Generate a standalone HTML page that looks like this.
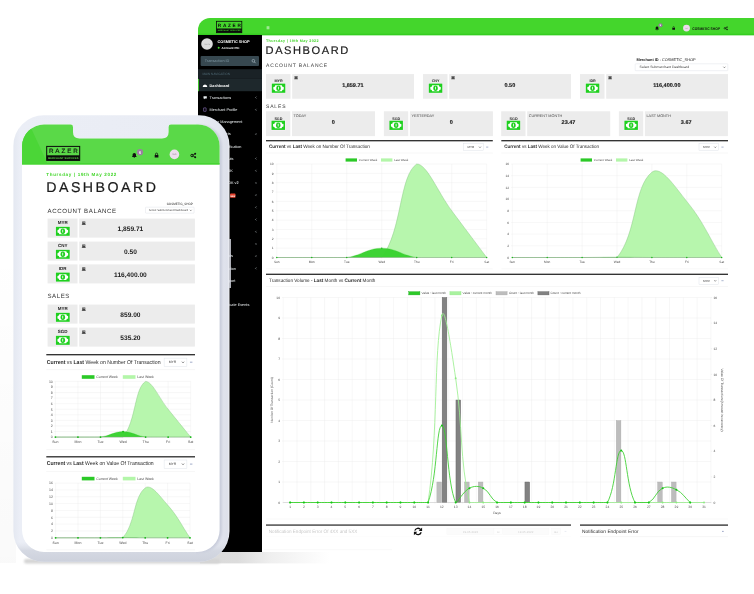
<!DOCTYPE html>
<html><head><meta charset="utf-8"><title>Dashboard</title>
<style>html,body{margin:0;padding:0;background:#fff;overflow:hidden}svg{display:block;will-change:transform}</style></head><body>
<svg width="754" height="594" viewBox="0 0 754 594" font-family="Liberation Sans, sans-serif" text-rendering="geometricPrecision">
<defs>
<clipPath id="win"><path d="M198,552 V30 A12,12 0 0 1 210,18 H754 V552 Z"/></clipPath>
<linearGradient id="shadowL" gradientUnits="userSpaceOnUse" x1="0" x2="330" y1="0" y2="0"><stop offset="0" stop-color="#f3f3f3"/><stop offset="0.6" stop-color="#dadada"/><stop offset="0.72" stop-color="#dcdcdc"/><stop offset="0.82" stop-color="#efefef"/><stop offset="1" stop-color="#ffffff"/></linearGradient>
<filter id="blur1" x="-10%" y="-200%" width="120%" height="500%"><feGaussianBlur stdDeviation="1.3"/></filter>
<linearGradient id="shadowV" x1="0" x2="0" y1="0" y2="1"><stop offset="0" stop-color="#fff" stop-opacity="0"/><stop offset="1" stop-color="#fff" stop-opacity="1"/></linearGradient>
<linearGradient id="bezelR" x1="0" x2="1" y1="0" y2="0"><stop offset="0" stop-color="#e4e8f1"/><stop offset="0.03" stop-color="#ebeef6"/><stop offset="0.85" stop-color="#e9ecf4"/><stop offset="0.95" stop-color="#e3e6ef"/><stop offset="0.99" stop-color="#dde0ea"/><stop offset="1" stop-color="#f0f1f6"/></linearGradient>
<linearGradient id="bezelB" x1="0" x2="0" y1="0" y2="1"><stop offset="0" stop-color="#e9ecf4" stop-opacity="0"/><stop offset="0.955" stop-color="#dfe2ea" stop-opacity="0"/><stop offset="0.975" stop-color="#d2d6e0" stop-opacity="0.9"/><stop offset="1" stop-color="#cdd1dc" stop-opacity="1"/></linearGradient>
<linearGradient id="shL" x1="0" x2="0" y1="0" y2="1"><stop offset="0" stop-color="#000" stop-opacity="0"/><stop offset="1" stop-color="#000" stop-opacity="0.022"/></linearGradient>
<linearGradient id="glare" x1="0" x2="1" y1="0" y2="0"><stop offset="0" stop-color="#4bd537"/><stop offset="1" stop-color="#4bd537"/></linearGradient>
<clipPath id="bezclip"><path d="M13.4,561.8 V145.7 A30.5,30.5 0 0 1 43.9,115.2 H199 A30.5,30.5 0 0 1 229.5,145.7 V531.3 A30.5,30.5 0 0 1 199,561.8 H43.9 A30.5,30.5 0 0 1 13.4,531.3 Z"/></clipPath>
<filter id="blur2" x="-10%" y="-10%" width="120%" height="120%"><feGaussianBlur stdDeviation="0.9"/></filter>
<clipPath id="rightonly"><rect x="196" y="118" width="40" height="440"/></clipPath>
<clipPath id="screen"><path d="M22,552 V146 A22,22 0 0 1 44,124.5 H70.6 Q73,124.5 73,126.9 V132 Q73,138.5 79.5,138.5 H162 Q168.6,138.5 168.6,132 V126.9 Q168.6,124.5 171,124.5 H198 A21.5,21.5 0 0 1 219.6,146 V530 A22,22 0 0 1 197.6,552 H44 A22,22 0 0 1 22,530 Z"/></clipPath>
</defs>
<rect x="0" y="0" width="754" height="594" fill="#fff"/>
<rect x="200" y="551" width="130" height="12.4" fill="url(#shadowL)"/>
<rect x="24" y="559" width="196" height="4.6" rx="2" fill="#d4d4d4" filter="url(#blur1)"/>
<g clip-path="url(#win)">
<rect x="198.00" y="18.00" width="556.00" height="534.00" fill="#fff" />
<rect x="198.00" y="18.00" width="556.00" height="17.20" fill="#44d62c" />
<rect x="198.00" y="33.70" width="556.00" height="1.50" fill="#35cd21" />
<rect x="198.00" y="35.00" width="64.00" height="517.00" fill="#000" />
<g>
<rect x="216.5" y="21.3" width="25.3" height="11.4" fill="#44d62c" stroke="#0a0a0a" stroke-width="0.8"/>
<rect x="216.50" y="28.50" width="25.30" height="4.20" fill="#0a0a0a" />
<text x="230.20" y="26.90" font-size="4.7" fill="#0a0a0a" text-anchor="middle" font-weight="bold" letter-spacing="1.7">RAZER</text>
<text x="229.20" y="31.40" font-size="1.9" fill="#44d62c" text-anchor="middle" font-weight="bold" letter-spacing="0.12">MERCHANT SERVICES</text>
</g>
<rect x="266.60" y="26.60" width="2.80" height="0.55" fill="#fff" />
<rect x="266.60" y="27.60" width="2.80" height="0.55" fill="#fff" />
<rect x="266.60" y="28.60" width="2.80" height="0.55" fill="#fff" />
<path d="M655.1,29.5 h3.9 l-0.6,-0.8 v-0.95 a1.35,1.35 0 0 0 -2.7,0 v0.95 z M656.5,29.7 a0.55,0.55 0 0 0 1.1,0 z" fill="#111"/>
<circle cx="660.5" cy="25.3" r="2.0" fill="#9579a0"/>
<text x="660.50" y="26.15" font-size="2.4" fill="#fff" text-anchor="middle" font-weight="bold">5</text>
<path d="M672.3,27.9 h2.7 v1.8 h-2.7 z" fill="#111"/><path d="M672.9,28 v-0.6 a0.75,0.75 0 0 1 1.5,0 v0.6" fill="none" stroke="#111" stroke-width="0.55"/>
<circle cx="686.5" cy="28.1" r="3.45" fill="#eedaee"/>
<text x="686.50" y="28.80" font-size="2.0" fill="#9a909a" text-anchor="middle">5x5</text>
<text x="692.30" y="29.50" font-size="3.8" fill="#111" font-weight="bold" textLength="27.6" lengthAdjust="spacingAndGlyphs">COSMETIC SHOP</text>
<g fill="#111"><circle cx="724.9" cy="28.3" r="0.8" fill="none" stroke="#111" stroke-width="0.65"/><circle cx="727.1" cy="27.1" r="0.7"/><circle cx="727.1" cy="29.5" r="0.7"/><path d="M725.3,28.1 L727.1,27.1 M725.3,28.5 L727.1,29.5" stroke="#111" stroke-width="0.5"/></g>
<circle cx="207" cy="44" r="5.8" fill="#dcdcdc"/>
<text x="207.00" y="44.80" font-size="2.3" fill="#8f8f8f" text-anchor="middle">75x75</text>
<text x="217.40" y="42.70" font-size="3.85" fill="#fff" font-weight="bold">COSMETIC SHOP</text>
<circle cx="218.7" cy="47.8" r="1.0" fill="#44d62c"/>
<text x="221.60" y="48.80" font-size="3.0" fill="#fff" font-weight="bold">Account PIC</text>
<rect x="200.6" y="56" width="58.4" height="10" rx="1" fill="#374850"/>
<text x="204.80" y="62.30" font-size="3.8" fill="#7f98a3">Transaction ID</text>
<circle cx="253.4" cy="60.8" r="1.35" fill="none" stroke="#b4c5cd" stroke-width="0.6"/>
<line x1="254.40" y1="61.90" x2="255.60" y2="63.20" stroke="#b4c5cd" stroke-width="0.7" />
<rect x="198.00" y="69.20" width="64.00" height="9.70" fill="#1a2226" />
<text x="202.40" y="74.80" font-size="3.15" fill="#4b646f">MAIN NAVIGATION</text>
<rect x="198.00" y="78.90" width="64.00" height="12.30" fill="#1e282c" />
<rect x="198.00" y="78.90" width="0.90" height="12.30" fill="#44d62c" />
<text x="209.60" y="86.65" font-size="3.8" fill="#fff" font-weight="bold">Dashboard</text>
<text x="209.60" y="98.85" font-size="3.8" fill="#eef2f4">Transactions</text>
<path d="M256.40,96.65 L255.50,97.55 L256.40,98.45" fill="none" stroke="#c9d2d6" stroke-width="0.5"/>
<text x="209.60" y="111.05" font-size="3.8" fill="#eef2f4">Merchant Profile</text>
<path d="M256.40,108.85 L255.50,109.75 L256.40,110.65" fill="none" stroke="#c9d2d6" stroke-width="0.5"/>
<text x="242.40" y="123.25" font-size="3.8" fill="#eef2f4" text-anchor="end">User Management</text>
<text x="230.60" y="135.45" font-size="3.8" fill="#eef2f4" text-anchor="end">Reports</text>
<path d="M256.40,133.25 L255.50,134.15 L256.40,135.05" fill="none" stroke="#c9d2d6" stroke-width="0.5"/>
<text x="241.40" y="147.65" font-size="3.8" fill="#eef2f4" text-anchor="end">Channel Verification</text>
<text x="233.50" y="159.85" font-size="3.8" fill="#eef2f4" text-anchor="end">Payouts</text>
<path d="M256.40,157.65 L255.50,158.55 L256.40,159.45" fill="none" stroke="#c9d2d6" stroke-width="0.5"/>
<text x="232.70" y="172.05" font-size="3.8" fill="#eef2f4" text-anchor="end">Mobile SDK</text>
<path d="M256.40,169.85 L255.50,170.75 L256.40,171.65" fill="none" stroke="#c9d2d6" stroke-width="0.5"/>
<text x="238.60" y="184.25" font-size="3.8" fill="#eef2f4" text-anchor="end">Mobile SDK v2</text>
<path d="M256.40,182.05 L255.50,182.95 L256.40,183.85" fill="none" stroke="#c9d2d6" stroke-width="0.5"/>
<text x="209.60" y="196.45" font-size="3.8" fill="#eef2f4">Invoice</text>
<path d="M256.40,194.25 L255.50,195.15 L256.40,196.05" fill="none" stroke="#c9d2d6" stroke-width="0.5"/>
<text x="209.60" y="208.65" font-size="3.8" fill="#eef2f4">Billing</text>
<path d="M256.40,206.45 L255.50,207.35 L256.40,208.25" fill="none" stroke="#c9d2d6" stroke-width="0.5"/>
<text x="209.60" y="220.85" font-size="3.8" fill="#eef2f4">Payout</text>
<path d="M256.40,218.65 L255.50,219.55 L256.40,220.45" fill="none" stroke="#c9d2d6" stroke-width="0.5"/>
<text x="209.60" y="233.05" font-size="3.8" fill="#eef2f4">Channel</text>
<path d="M256.40,230.85 L255.50,231.75 L256.40,232.65" fill="none" stroke="#c9d2d6" stroke-width="0.5"/>
<text x="209.60" y="245.25" font-size="3.8" fill="#eef2f4">Tools</text>
<path d="M256.40,243.05 L255.50,243.95 L256.40,244.85" fill="none" stroke="#c9d2d6" stroke-width="0.5"/>
<text x="232.90" y="257.45" font-size="3.8" fill="#eef2f4" text-anchor="end">Downloads</text>
<path d="M256.40,255.25 L255.50,256.15 L256.40,257.05" fill="none" stroke="#c9d2d6" stroke-width="0.5"/>
<text x="236.00" y="269.65" font-size="3.8" fill="#eef2f4" text-anchor="end">Documentation</text>
<path d="M256.40,267.45 L255.50,268.35 L256.40,269.25" fill="none" stroke="#c9d2d6" stroke-width="0.5"/>
<text x="235.40" y="281.85" font-size="3.8" fill="#eef2f4" text-anchor="end">Support</text>
<text x="209.60" y="294.05" font-size="3.8" fill="#eef2f4">Help</text>
<text x="249.30" y="306.25" font-size="3.8" fill="#eef2f4" text-anchor="end">Certificate Events</text>
<path d="M202.7,87.0 a2.3,2.5 0 0 1 4.6,0 z" fill="#fff"/>
<path d="M203.5,96.3 h3.3 v2.1 h-1.9 l-0.9,0.8 v-0.8 h-0.5 z" fill="#e8edf0"/>
<rect x="203.6" y="107.9" width="2.5" height="3.4" rx="0.15" fill="none" stroke="#9a7fd0" stroke-width="0.55"/>
<rect x="230.20" y="193.60" width="5.20" height="4.20" fill="#e8432e" rx="0.6"/>
<text x="232.80" y="196.70" font-size="2.2" fill="#fff" text-anchor="middle" font-weight="bold">NEW</text>
<text x="266.00" y="42.30" font-size="3.7" fill="#44d62c" font-weight="bold" letter-spacing="0.34">Thursday | 19th May 2022</text>
<text x="265.60" y="53.90" font-size="11.1" fill="#1a1a1a" letter-spacing="1.55" stroke="#1a1a1a" stroke-width="0.18">DASHBOARD</text>
<text x="266.00" y="67.40" font-size="5.0" fill="#3a3a3a" letter-spacing="0.84">ACCOUNT BALANCE</text>
<text x="636.40" y="60.70" font-size="3.9" fill="#1c1c1c" textLength="59.2" lengthAdjust="spacingAndGlyphs"><tspan font-weight="bold">Merchant ID</tspan> : COSMETIC_SHOP</text>
<rect x="635.2" y="63.8" width="92.6" height="6.9" rx="0.6" fill="#fff" stroke="#d8dce4" stroke-width="0.4"/>
<text x="639.60" y="68.40" font-size="3.3" fill="#3c3c3c" textLength="49.5" lengthAdjust="spacingAndGlyphs">Select Submerchant Dashboard</text>
<path d="M723.4,66.7 l1.0,1.1 l1.0,-1.1" fill="none" stroke="#333" stroke-width="0.5"/>
<rect x="266.00" y="74.10" width="24.50" height="24.60" fill="#ececec" />
<rect x="292.20" y="74.10" width="121.80" height="24.60" fill="#ececec" />
<text x="278.60" y="82.40" font-size="3.7" fill="#222" text-anchor="middle" font-weight="bold">MYR</text>
<rect x="271.30" y="83.10" width="14.50" height="10.20" fill="#fdf2fd" opacity="0.9"/>
<rect x="271.80" y="83.60" width="13.50" height="9.20" fill="#1fd01f" />
<path d="M275.19,85.16 H281.91 A1.84,1.84 0 0 0 283.75,87.00 V89.40 A1.84,1.84 0 0 0 281.91,91.24 H275.19 A1.84,1.84 0 0 0 273.35,89.40 V87.00 A1.84,1.84 0 0 0 275.19,85.16 Z" fill="#fff"/>
<ellipse cx="278.55" cy="88.20" rx="2.23" ry="2.76" fill="#1fd01f"/>
<path d="M278.08,86.73 h0.81 v2.76 h-0.81 z" fill="#fff"/>
<rect x="294.60" y="76.00" width="2.90" height="2.90" fill="#444" />
<rect x="295.18" y="76.52" width="0.64" height="0.58" fill="#eee" />
<rect x="296.28" y="76.52" width="0.64" height="0.58" fill="#eee" />
<rect x="294.25" y="78.61" width="3.60" height="0.64" fill="#444" />
<text x="352.85" y="86.80" font-size="5.5" fill="#151515" text-anchor="middle" font-weight="bold" stroke="#151515" stroke-width="0.12">1,859.71</text>
<rect x="423.00" y="74.10" width="24.50" height="24.60" fill="#ececec" />
<rect x="449.20" y="74.10" width="121.80" height="24.60" fill="#ececec" />
<text x="435.60" y="82.40" font-size="3.7" fill="#222" text-anchor="middle" font-weight="bold">CNY</text>
<rect x="428.30" y="83.10" width="14.50" height="10.20" fill="#fdf2fd" opacity="0.9"/>
<rect x="428.80" y="83.60" width="13.50" height="9.20" fill="#1fd01f" />
<path d="M432.19,85.16 H438.91 A1.84,1.84 0 0 0 440.75,87.00 V89.40 A1.84,1.84 0 0 0 438.91,91.24 H432.19 A1.84,1.84 0 0 0 430.35,89.40 V87.00 A1.84,1.84 0 0 0 432.19,85.16 Z" fill="#fff"/>
<ellipse cx="435.55" cy="88.20" rx="2.23" ry="2.76" fill="#1fd01f"/>
<path d="M435.08,86.73 h0.81 v2.76 h-0.81 z" fill="#fff"/>
<rect x="451.60" y="76.00" width="2.90" height="2.90" fill="#444" />
<rect x="452.18" y="76.52" width="0.64" height="0.58" fill="#eee" />
<rect x="453.28" y="76.52" width="0.64" height="0.58" fill="#eee" />
<rect x="451.25" y="78.61" width="3.60" height="0.64" fill="#444" />
<text x="509.85" y="86.80" font-size="5.5" fill="#151515" text-anchor="middle" font-weight="bold" stroke="#151515" stroke-width="0.12">0.50</text>
<rect x="580.00" y="74.10" width="24.50" height="24.60" fill="#ececec" />
<rect x="606.20" y="74.10" width="121.80" height="24.60" fill="#ececec" />
<text x="592.60" y="82.40" font-size="3.7" fill="#222" text-anchor="middle" font-weight="bold">IDR</text>
<rect x="585.30" y="83.10" width="14.50" height="10.20" fill="#fdf2fd" opacity="0.9"/>
<rect x="585.80" y="83.60" width="13.50" height="9.20" fill="#1fd01f" />
<path d="M589.19,85.16 H595.91 A1.84,1.84 0 0 0 597.75,87.00 V89.40 A1.84,1.84 0 0 0 595.91,91.24 H589.19 A1.84,1.84 0 0 0 587.35,89.40 V87.00 A1.84,1.84 0 0 0 589.19,85.16 Z" fill="#fff"/>
<ellipse cx="592.55" cy="88.20" rx="2.23" ry="2.76" fill="#1fd01f"/>
<path d="M592.08,86.73 h0.81 v2.76 h-0.81 z" fill="#fff"/>
<rect x="608.60" y="76.00" width="2.90" height="2.90" fill="#444" />
<rect x="609.18" y="76.52" width="0.64" height="0.58" fill="#eee" />
<rect x="610.28" y="76.52" width="0.64" height="0.58" fill="#eee" />
<rect x="608.25" y="78.61" width="3.60" height="0.64" fill="#444" />
<text x="666.85" y="86.80" font-size="5.5" fill="#151515" text-anchor="middle" font-weight="bold" stroke="#151515" stroke-width="0.12">116,400.00</text>
<text x="266.00" y="107.70" font-size="5.0" fill="#3a3a3a" letter-spacing="0.84">SALES</text>
<rect x="266.00" y="111.30" width="24.30" height="24.80" fill="#ececec" />
<rect x="292.00" y="111.30" width="83.00" height="24.80" fill="#ececec" />
<text x="278.40" y="119.50" font-size="3.7" fill="#222" text-anchor="middle" font-weight="bold">SGD</text>
<rect x="271.00" y="120.20" width="14.50" height="10.20" fill="#fdf2fd" opacity="0.9"/>
<rect x="271.50" y="120.70" width="13.50" height="9.20" fill="#1fd01f" />
<path d="M274.89,122.26 H281.61 A1.84,1.84 0 0 0 283.45,124.10 V126.50 A1.84,1.84 0 0 0 281.61,128.34 H274.89 A1.84,1.84 0 0 0 273.05,126.50 V124.10 A1.84,1.84 0 0 0 274.89,122.26 Z" fill="#fff"/>
<ellipse cx="278.25" cy="125.30" rx="2.23" ry="2.76" fill="#1fd01f"/>
<path d="M277.78,123.83 h0.81 v2.76 h-0.81 z" fill="#fff"/>
<text x="293.60" y="116.70" font-size="3.8" fill="#484848">TODAY</text>
<text x="333.30" y="123.80" font-size="5.5" fill="#151515" text-anchor="middle" font-weight="bold" stroke="#151515" stroke-width="0.12">0</text>
<rect x="383.90" y="111.30" width="24.30" height="24.80" fill="#ececec" />
<rect x="409.90" y="111.30" width="83.00" height="24.80" fill="#ececec" />
<text x="396.30" y="119.50" font-size="3.7" fill="#222" text-anchor="middle" font-weight="bold">SGD</text>
<rect x="388.90" y="120.20" width="14.50" height="10.20" fill="#fdf2fd" opacity="0.9"/>
<rect x="389.40" y="120.70" width="13.50" height="9.20" fill="#1fd01f" />
<path d="M392.79,122.26 H399.51 A1.84,1.84 0 0 0 401.35,124.10 V126.50 A1.84,1.84 0 0 0 399.51,128.34 H392.79 A1.84,1.84 0 0 0 390.95,126.50 V124.10 A1.84,1.84 0 0 0 392.79,122.26 Z" fill="#fff"/>
<ellipse cx="396.15" cy="125.30" rx="2.23" ry="2.76" fill="#1fd01f"/>
<path d="M395.68,123.83 h0.81 v2.76 h-0.81 z" fill="#fff"/>
<text x="411.50" y="116.70" font-size="3.8" fill="#484848">YESTERDAY</text>
<text x="451.20" y="123.80" font-size="5.5" fill="#151515" text-anchor="middle" font-weight="bold" stroke="#151515" stroke-width="0.12">0</text>
<rect x="501.20" y="111.30" width="24.30" height="24.80" fill="#ececec" />
<rect x="527.20" y="111.30" width="83.00" height="24.80" fill="#ececec" />
<text x="513.60" y="119.50" font-size="3.7" fill="#222" text-anchor="middle" font-weight="bold">SGD</text>
<rect x="506.20" y="120.20" width="14.50" height="10.20" fill="#fdf2fd" opacity="0.9"/>
<rect x="506.70" y="120.70" width="13.50" height="9.20" fill="#1fd01f" />
<path d="M510.09,122.26 H516.81 A1.84,1.84 0 0 0 518.65,124.10 V126.50 A1.84,1.84 0 0 0 516.81,128.34 H510.09 A1.84,1.84 0 0 0 508.25,126.50 V124.10 A1.84,1.84 0 0 0 510.09,122.26 Z" fill="#fff"/>
<ellipse cx="513.45" cy="125.30" rx="2.23" ry="2.76" fill="#1fd01f"/>
<path d="M512.98,123.83 h0.81 v2.76 h-0.81 z" fill="#fff"/>
<text x="528.80" y="116.70" font-size="3.8" fill="#484848">CURRENT MONTH</text>
<text x="568.50" y="123.80" font-size="5.5" fill="#151515" text-anchor="middle" font-weight="bold" stroke="#151515" stroke-width="0.12">23.47</text>
<rect x="618.90" y="111.30" width="24.30" height="24.80" fill="#ececec" />
<rect x="644.90" y="111.30" width="83.00" height="24.80" fill="#ececec" />
<text x="631.30" y="119.50" font-size="3.7" fill="#222" text-anchor="middle" font-weight="bold">SGD</text>
<rect x="623.90" y="120.20" width="14.50" height="10.20" fill="#fdf2fd" opacity="0.9"/>
<rect x="624.40" y="120.70" width="13.50" height="9.20" fill="#1fd01f" />
<path d="M627.79,122.26 H634.51 A1.84,1.84 0 0 0 636.35,124.10 V126.50 A1.84,1.84 0 0 0 634.51,128.34 H627.79 A1.84,1.84 0 0 0 625.95,126.50 V124.10 A1.84,1.84 0 0 0 627.79,122.26 Z" fill="#fff"/>
<ellipse cx="631.15" cy="125.30" rx="2.23" ry="2.76" fill="#1fd01f"/>
<path d="M630.68,123.83 h0.81 v2.76 h-0.81 z" fill="#fff"/>
<text x="646.50" y="116.70" font-size="3.8" fill="#484848">LAST MONTH</text>
<text x="686.20" y="123.80" font-size="5.5" fill="#151515" text-anchor="middle" font-weight="bold" stroke="#151515" stroke-width="0.12">3.67</text>
<rect x="266.00" y="140.05" width="226.80" height="1.30" fill="#2b2b2b" />
<text x="269.00" y="148.00" font-size="4.9" fill="#2a2a2a" textLength="100.8" lengthAdjust="spacingAndGlyphs"><tspan font-weight="bold">Current</tspan> vs <tspan font-weight="bold">Last</tspan> Week on Number Of Transaction</text>
<line x1="266.00" y1="153.00" x2="492.80" y2="153.00" stroke="#eeeeee" stroke-width="0.5" />
<rect x="463.70" y="143.60" width="19.60" height="7.00" fill="#fff" stroke="#d8dce4" stroke-width="0.4"/>
<text x="467.62" y="148.18" font-size="3.0" fill="#3a3a3a">MYR</text>
<path d="M479.01,146.65 L479.97,147.70 L480.93,146.65" fill="none" stroke="#333" stroke-width="0.51"/>
<line x1="486.12" y1="147.10" x2="488.28" y2="147.10" stroke="#7686b0" stroke-width="0.6000000000000001" />
<line x1="275.60" y1="257.50" x2="486.70" y2="257.50" stroke="#e9e9e9" stroke-width="0.35" />
<text x="273.60" y="258.65" font-size="3.2" fill="#4a4a4a" text-anchor="end">0</text>
<line x1="275.60" y1="248.15" x2="486.70" y2="248.15" stroke="#e9e9e9" stroke-width="0.35" />
<text x="273.60" y="249.30" font-size="3.2" fill="#4a4a4a" text-anchor="end">1</text>
<line x1="275.60" y1="238.80" x2="486.70" y2="238.80" stroke="#e9e9e9" stroke-width="0.35" />
<text x="273.60" y="239.95" font-size="3.2" fill="#4a4a4a" text-anchor="end">2</text>
<line x1="275.60" y1="229.45" x2="486.70" y2="229.45" stroke="#e9e9e9" stroke-width="0.35" />
<text x="273.60" y="230.60" font-size="3.2" fill="#4a4a4a" text-anchor="end">3</text>
<line x1="275.60" y1="220.10" x2="486.70" y2="220.10" stroke="#e9e9e9" stroke-width="0.35" />
<text x="273.60" y="221.25" font-size="3.2" fill="#4a4a4a" text-anchor="end">4</text>
<line x1="275.60" y1="210.75" x2="486.70" y2="210.75" stroke="#e9e9e9" stroke-width="0.35" />
<text x="273.60" y="211.90" font-size="3.2" fill="#4a4a4a" text-anchor="end">5</text>
<line x1="275.60" y1="201.40" x2="486.70" y2="201.40" stroke="#e9e9e9" stroke-width="0.35" />
<text x="273.60" y="202.55" font-size="3.2" fill="#4a4a4a" text-anchor="end">6</text>
<line x1="275.60" y1="192.05" x2="486.70" y2="192.05" stroke="#e9e9e9" stroke-width="0.35" />
<text x="273.60" y="193.20" font-size="3.2" fill="#4a4a4a" text-anchor="end">7</text>
<line x1="275.60" y1="182.70" x2="486.70" y2="182.70" stroke="#e9e9e9" stroke-width="0.35" />
<text x="273.60" y="183.85" font-size="3.2" fill="#4a4a4a" text-anchor="end">8</text>
<line x1="275.60" y1="173.35" x2="486.70" y2="173.35" stroke="#e9e9e9" stroke-width="0.35" />
<text x="273.60" y="174.50" font-size="3.2" fill="#4a4a4a" text-anchor="end">9</text>
<line x1="275.60" y1="164.00" x2="486.70" y2="164.00" stroke="#e9e9e9" stroke-width="0.35" />
<text x="273.60" y="165.15" font-size="3.2" fill="#4a4a4a" text-anchor="end">10</text>
<line x1="276.80" y1="164.00" x2="276.80" y2="258.70" stroke="#e9e9e9" stroke-width="0.35" />
<line x1="311.78" y1="164.00" x2="311.78" y2="258.70" stroke="#e9e9e9" stroke-width="0.35" />
<line x1="346.77" y1="164.00" x2="346.77" y2="258.70" stroke="#e9e9e9" stroke-width="0.35" />
<line x1="381.75" y1="164.00" x2="381.75" y2="258.70" stroke="#e9e9e9" stroke-width="0.35" />
<line x1="416.73" y1="164.00" x2="416.73" y2="258.70" stroke="#e9e9e9" stroke-width="0.35" />
<line x1="451.72" y1="164.00" x2="451.72" y2="258.70" stroke="#e9e9e9" stroke-width="0.35" />
<line x1="486.70" y1="164.00" x2="486.70" y2="258.70" stroke="#e9e9e9" stroke-width="0.35" />
<text x="276.80" y="262.90" font-size="3.2" fill="#4a4a4a" text-anchor="middle">Sun</text>
<text x="311.78" y="262.90" font-size="3.2" fill="#4a4a4a" text-anchor="middle">Mon</text>
<text x="346.77" y="262.90" font-size="3.2" fill="#4a4a4a" text-anchor="middle">Tue</text>
<text x="381.75" y="262.90" font-size="3.2" fill="#4a4a4a" text-anchor="middle">Wed</text>
<text x="416.73" y="262.90" font-size="3.2" fill="#4a4a4a" text-anchor="middle">Thu</text>
<text x="451.72" y="262.90" font-size="3.2" fill="#4a4a4a" text-anchor="middle">Fri</text>
<text x="486.70" y="262.90" font-size="3.2" fill="#4a4a4a" text-anchor="middle">Sat</text>
<path d="M276.80,257.50 C290.79,257.50 297.79,257.50 311.78,257.50 C325.78,257.50 332.77,257.50 346.77,257.50 C360.76,257.50 374.49,257.50 381.75,257.50 C402.47,229.81 399.07,175.80 416.73,164.00 C427.06,164.00 437.72,192.05 451.72,210.75 C465.71,229.45 472.71,238.80 486.70,257.50 L486.70,257.50 L276.80,257.50 Z" fill="#b3f6a9" fill-opacity="0.95"/>
<path d="M276.80,257.50 C290.79,257.50 297.79,257.50 311.78,257.50 C325.78,257.50 332.77,257.50 346.77,257.50 C360.76,257.50 374.49,257.50 381.75,257.50 C402.47,229.81 399.07,175.80 416.73,164.00 C427.06,164.00 437.72,192.05 451.72,210.75 C465.71,229.45 472.71,238.80 486.70,257.50" fill="none" stroke="#7fbf78" stroke-width="0.4"/>
<path d="M276.80,257.50 C290.79,257.50 297.79,257.50 311.78,257.50 C325.78,257.50 333.01,257.50 346.77,257.50 C361.00,255.60 367.76,248.15 381.75,248.15 C395.74,248.15 402.50,255.60 416.73,257.50 C430.49,257.50 437.72,257.50 451.72,257.50 C465.71,257.50 472.71,257.50 486.70,257.50 L486.70,257.50 L276.80,257.50 Z" fill="#36d12d" fill-opacity="0.96"/>
<path d="M276.80,257.50 C290.79,257.50 297.79,257.50 311.78,257.50 C325.78,257.50 333.01,257.50 346.77,257.50 C361.00,255.60 367.76,248.15 381.75,248.15 C395.74,248.15 402.50,255.60 416.73,257.50 C430.49,257.50 437.72,257.50 451.72,257.50 C465.71,257.50 472.71,257.50 486.70,257.50" fill="none" stroke="#2fc42a" stroke-width="0.3"/>
<line x1="276.80" y1="257.50" x2="486.70" y2="257.50" stroke="#9c9c9c" stroke-width="0.4" />
<circle cx="276.80" cy="257.50" r="0.7" fill="#12b812"/>
<circle cx="311.78" cy="257.50" r="0.7" fill="#12b812"/>
<circle cx="346.77" cy="257.50" r="0.7" fill="#12b812"/>
<circle cx="381.75" cy="248.15" r="0.7" fill="#12b812"/>
<circle cx="416.73" cy="257.50" r="0.7" fill="#12b812"/>
<circle cx="451.72" cy="257.50" r="0.7" fill="#12b812"/>
<circle cx="486.70" cy="257.50" r="0.7" fill="#12b812"/>
<rect x="345.60" y="158.40" width="11.40" height="3.20" fill="#2bc927" />
<text x="358.80" y="161.08" font-size="3.0" fill="#505050">Current Week</text>
<rect x="381.00" y="158.40" width="11.40" height="3.20" fill="#b3f6a9" />
<text x="394.20" y="161.08" font-size="3.0" fill="#505050">Last Week</text>
<line x1="266.00" y1="268.80" x2="492.80" y2="268.80" stroke="#f0f0f0" stroke-width="0.5" />
<rect x="501.30" y="140.05" width="226.70" height="1.30" fill="#2b2b2b" />
<text x="504.30" y="148.00" font-size="4.9" fill="#2a2a2a" textLength="94.8" lengthAdjust="spacingAndGlyphs"><tspan font-weight="bold">Current</tspan> vs <tspan font-weight="bold">Last</tspan> Week on Value Of Transaction</text>
<line x1="501.30" y1="153.00" x2="728.00" y2="153.00" stroke="#eeeeee" stroke-width="0.5" />
<rect x="699.00" y="143.60" width="19.60" height="7.00" fill="#fff" stroke="#d8dce4" stroke-width="0.4"/>
<text x="702.92" y="148.18" font-size="3.0" fill="#3a3a3a">MYR</text>
<path d="M714.31,146.65 L715.27,147.70 L716.23,146.65" fill="none" stroke="#333" stroke-width="0.51"/>
<line x1="721.42" y1="147.10" x2="723.58" y2="147.10" stroke="#7686b0" stroke-width="0.6000000000000001" />
<line x1="511.10" y1="257.50" x2="721.70" y2="257.50" stroke="#e9e9e9" stroke-width="0.35" />
<text x="509.10" y="258.65" font-size="3.2" fill="#4a4a4a" text-anchor="end">0</text>
<line x1="511.10" y1="245.81" x2="721.70" y2="245.81" stroke="#e9e9e9" stroke-width="0.35" />
<text x="509.10" y="246.96" font-size="3.2" fill="#4a4a4a" text-anchor="end">2</text>
<line x1="511.10" y1="234.12" x2="721.70" y2="234.12" stroke="#e9e9e9" stroke-width="0.35" />
<text x="509.10" y="235.28" font-size="3.2" fill="#4a4a4a" text-anchor="end">4</text>
<line x1="511.10" y1="222.44" x2="721.70" y2="222.44" stroke="#e9e9e9" stroke-width="0.35" />
<text x="509.10" y="223.59" font-size="3.2" fill="#4a4a4a" text-anchor="end">6</text>
<line x1="511.10" y1="210.75" x2="721.70" y2="210.75" stroke="#e9e9e9" stroke-width="0.35" />
<text x="509.10" y="211.90" font-size="3.2" fill="#4a4a4a" text-anchor="end">8</text>
<line x1="511.10" y1="199.06" x2="721.70" y2="199.06" stroke="#e9e9e9" stroke-width="0.35" />
<text x="509.10" y="200.21" font-size="3.2" fill="#4a4a4a" text-anchor="end">10</text>
<line x1="511.10" y1="187.38" x2="721.70" y2="187.38" stroke="#e9e9e9" stroke-width="0.35" />
<text x="509.10" y="188.53" font-size="3.2" fill="#4a4a4a" text-anchor="end">12</text>
<line x1="511.10" y1="175.69" x2="721.70" y2="175.69" stroke="#e9e9e9" stroke-width="0.35" />
<text x="509.10" y="176.84" font-size="3.2" fill="#4a4a4a" text-anchor="end">14</text>
<line x1="511.10" y1="164.00" x2="721.70" y2="164.00" stroke="#e9e9e9" stroke-width="0.35" />
<text x="509.10" y="165.15" font-size="3.2" fill="#4a4a4a" text-anchor="end">16</text>
<line x1="512.30" y1="164.00" x2="512.30" y2="258.70" stroke="#e9e9e9" stroke-width="0.35" />
<line x1="547.20" y1="164.00" x2="547.20" y2="258.70" stroke="#e9e9e9" stroke-width="0.35" />
<line x1="582.10" y1="164.00" x2="582.10" y2="258.70" stroke="#e9e9e9" stroke-width="0.35" />
<line x1="617.00" y1="164.00" x2="617.00" y2="258.70" stroke="#e9e9e9" stroke-width="0.35" />
<line x1="651.90" y1="164.00" x2="651.90" y2="258.70" stroke="#e9e9e9" stroke-width="0.35" />
<line x1="686.80" y1="164.00" x2="686.80" y2="258.70" stroke="#e9e9e9" stroke-width="0.35" />
<line x1="721.70" y1="164.00" x2="721.70" y2="258.70" stroke="#e9e9e9" stroke-width="0.35" />
<text x="512.30" y="262.90" font-size="3.2" fill="#4a4a4a" text-anchor="middle">Sun</text>
<text x="547.20" y="262.90" font-size="3.2" fill="#4a4a4a" text-anchor="middle">Mon</text>
<text x="582.10" y="262.90" font-size="3.2" fill="#4a4a4a" text-anchor="middle">Tue</text>
<text x="617.00" y="262.90" font-size="3.2" fill="#4a4a4a" text-anchor="middle">Wed</text>
<text x="651.90" y="262.90" font-size="3.2" fill="#4a4a4a" text-anchor="middle">Thu</text>
<text x="686.80" y="262.90" font-size="3.2" fill="#4a4a4a" text-anchor="middle">Fri</text>
<text x="721.70" y="262.90" font-size="3.2" fill="#4a4a4a" text-anchor="middle">Sat</text>
<path d="M512.30,257.50 C526.26,257.50 533.24,257.50 547.20,257.50 C561.16,257.50 568.14,257.50 582.10,257.50 C596.06,257.50 609.33,257.50 617.00,257.50 C637.25,232.74 633.21,187.20 651.90,172.18 C661.13,164.76 675.41,187.48 686.80,201.40 C703.33,221.61 707.74,235.06 721.70,257.50 L721.70,257.50 L512.30,257.50 Z" fill="#b3f6a9" fill-opacity="0.95"/>
<path d="M512.30,257.50 C526.26,257.50 533.24,257.50 547.20,257.50 C561.16,257.50 568.14,257.50 582.10,257.50 C596.06,257.50 609.33,257.50 617.00,257.50 C637.25,232.74 633.21,187.20 651.90,172.18 C661.13,164.76 675.41,187.48 686.80,201.40 C703.33,221.61 707.74,235.06 721.70,257.50" fill="none" stroke="#7fbf78" stroke-width="0.4"/>
<path d="M512.30,257.50 C526.26,257.50 533.24,257.50 547.20,257.50 C561.16,257.50 568.14,257.50 582.10,257.50 C596.06,257.43 603.04,257.15 617.00,257.15 C630.96,257.15 637.94,257.43 651.90,257.50 C665.86,257.50 672.84,257.50 686.80,257.50 C700.76,257.50 707.74,257.50 721.70,257.50 L721.70,257.50 L512.30,257.50 Z" fill="#36d12d" fill-opacity="0.96"/>
<path d="M512.30,257.50 C526.26,257.50 533.24,257.50 547.20,257.50 C561.16,257.50 568.14,257.50 582.10,257.50 C596.06,257.43 603.04,257.15 617.00,257.15 C630.96,257.15 637.94,257.43 651.90,257.50 C665.86,257.50 672.84,257.50 686.80,257.50 C700.76,257.50 707.74,257.50 721.70,257.50" fill="none" stroke="#2fc42a" stroke-width="0.3"/>
<line x1="512.30" y1="257.50" x2="721.70" y2="257.50" stroke="#9c9c9c" stroke-width="0.4" />
<circle cx="512.30" cy="257.50" r="0.7" fill="#12b812"/>
<circle cx="547.20" cy="257.50" r="0.7" fill="#12b812"/>
<circle cx="582.10" cy="257.50" r="0.7" fill="#12b812"/>
<circle cx="617.00" cy="257.15" r="0.7" fill="#12b812"/>
<circle cx="651.90" cy="257.50" r="0.7" fill="#12b812"/>
<circle cx="686.80" cy="257.50" r="0.7" fill="#12b812"/>
<circle cx="721.70" cy="257.50" r="0.7" fill="#12b812"/>
<rect x="580.60" y="158.40" width="11.40" height="3.20" fill="#2bc927" />
<text x="593.80" y="161.08" font-size="3.0" fill="#505050">Current Week</text>
<rect x="616.00" y="158.40" width="11.40" height="3.20" fill="#b3f6a9" />
<text x="629.20" y="161.08" font-size="3.0" fill="#505050">Last Week</text>
<line x1="501.30" y1="268.80" x2="728.00" y2="268.80" stroke="#f0f0f0" stroke-width="0.5" />
<rect x="266.00" y="273.65" width="462.00" height="1.30" fill="#2b2b2b" />
<text x="269.00" y="281.60" font-size="4.9" fill="#2a2a2a" textLength="106.4" lengthAdjust="spacingAndGlyphs">Transaction Volume - <tspan font-weight="bold">Last</tspan> Month vs <tspan font-weight="bold">Current</tspan> Month</text>
<line x1="266.00" y1="286.50" x2="728.00" y2="286.50" stroke="#eeeeee" stroke-width="0.5" />
<rect x="699.00" y="277.20" width="19.60" height="7.00" fill="#fff" stroke="#d8dce4" stroke-width="0.4"/>
<text x="702.92" y="281.78" font-size="3.0" fill="#3a3a3a">MYR</text>
<path d="M714.31,280.25 L715.27,281.30 L716.23,280.25" fill="none" stroke="#333" stroke-width="0.51"/>
<line x1="721.42" y1="280.70" x2="723.58" y2="280.70" stroke="#7686b0" stroke-width="0.6000000000000001" />
<line x1="283.20" y1="297.50" x2="283.20" y2="503.70" stroke="#e9e9e9" stroke-width="0.35" />
<line x1="297.00" y1="297.50" x2="297.00" y2="503.70" stroke="#e9e9e9" stroke-width="0.35" />
<line x1="310.79" y1="297.50" x2="310.79" y2="503.70" stroke="#e9e9e9" stroke-width="0.35" />
<line x1="324.59" y1="297.50" x2="324.59" y2="503.70" stroke="#e9e9e9" stroke-width="0.35" />
<line x1="338.39" y1="297.50" x2="338.39" y2="503.70" stroke="#e9e9e9" stroke-width="0.35" />
<line x1="352.18" y1="297.50" x2="352.18" y2="503.70" stroke="#e9e9e9" stroke-width="0.35" />
<line x1="365.98" y1="297.50" x2="365.98" y2="503.70" stroke="#e9e9e9" stroke-width="0.35" />
<line x1="379.78" y1="297.50" x2="379.78" y2="503.70" stroke="#e9e9e9" stroke-width="0.35" />
<line x1="393.57" y1="297.50" x2="393.57" y2="503.70" stroke="#e9e9e9" stroke-width="0.35" />
<line x1="407.37" y1="297.50" x2="407.37" y2="503.70" stroke="#e9e9e9" stroke-width="0.35" />
<line x1="421.17" y1="297.50" x2="421.17" y2="503.70" stroke="#e9e9e9" stroke-width="0.35" />
<line x1="434.96" y1="297.50" x2="434.96" y2="503.70" stroke="#e9e9e9" stroke-width="0.35" />
<line x1="448.76" y1="297.50" x2="448.76" y2="503.70" stroke="#e9e9e9" stroke-width="0.35" />
<line x1="462.56" y1="297.50" x2="462.56" y2="503.70" stroke="#e9e9e9" stroke-width="0.35" />
<line x1="476.35" y1="297.50" x2="476.35" y2="503.70" stroke="#e9e9e9" stroke-width="0.35" />
<line x1="490.15" y1="297.50" x2="490.15" y2="503.70" stroke="#e9e9e9" stroke-width="0.35" />
<line x1="503.95" y1="297.50" x2="503.95" y2="503.70" stroke="#e9e9e9" stroke-width="0.35" />
<line x1="517.75" y1="297.50" x2="517.75" y2="503.70" stroke="#e9e9e9" stroke-width="0.35" />
<line x1="531.54" y1="297.50" x2="531.54" y2="503.70" stroke="#e9e9e9" stroke-width="0.35" />
<line x1="545.34" y1="297.50" x2="545.34" y2="503.70" stroke="#e9e9e9" stroke-width="0.35" />
<line x1="559.14" y1="297.50" x2="559.14" y2="503.70" stroke="#e9e9e9" stroke-width="0.35" />
<line x1="572.93" y1="297.50" x2="572.93" y2="503.70" stroke="#e9e9e9" stroke-width="0.35" />
<line x1="586.73" y1="297.50" x2="586.73" y2="503.70" stroke="#e9e9e9" stroke-width="0.35" />
<line x1="600.53" y1="297.50" x2="600.53" y2="503.70" stroke="#e9e9e9" stroke-width="0.35" />
<line x1="614.32" y1="297.50" x2="614.32" y2="503.70" stroke="#e9e9e9" stroke-width="0.35" />
<line x1="628.12" y1="297.50" x2="628.12" y2="503.70" stroke="#e9e9e9" stroke-width="0.35" />
<line x1="641.92" y1="297.50" x2="641.92" y2="503.70" stroke="#e9e9e9" stroke-width="0.35" />
<line x1="655.71" y1="297.50" x2="655.71" y2="503.70" stroke="#e9e9e9" stroke-width="0.35" />
<line x1="669.51" y1="297.50" x2="669.51" y2="503.70" stroke="#e9e9e9" stroke-width="0.35" />
<line x1="683.31" y1="297.50" x2="683.31" y2="503.70" stroke="#e9e9e9" stroke-width="0.35" />
<line x1="697.10" y1="297.50" x2="697.10" y2="503.70" stroke="#e9e9e9" stroke-width="0.35" />
<line x1="710.90" y1="297.50" x2="710.90" y2="503.70" stroke="#e9e9e9" stroke-width="0.35" />
<line x1="282.00" y1="502.50" x2="710.90" y2="502.50" stroke="#e9e9e9" stroke-width="0.35" />
<text x="280.00" y="503.65" font-size="3.3" fill="#505050" text-anchor="end">0</text>
<line x1="282.00" y1="482.00" x2="710.90" y2="482.00" stroke="#e9e9e9" stroke-width="0.35" />
<text x="280.00" y="483.15" font-size="3.3" fill="#505050" text-anchor="end">1</text>
<line x1="282.00" y1="461.50" x2="710.90" y2="461.50" stroke="#e9e9e9" stroke-width="0.35" />
<text x="280.00" y="462.65" font-size="3.3" fill="#505050" text-anchor="end">2</text>
<line x1="282.00" y1="441.00" x2="710.90" y2="441.00" stroke="#e9e9e9" stroke-width="0.35" />
<text x="280.00" y="442.15" font-size="3.3" fill="#505050" text-anchor="end">3</text>
<line x1="282.00" y1="420.50" x2="710.90" y2="420.50" stroke="#e9e9e9" stroke-width="0.35" />
<text x="280.00" y="421.65" font-size="3.3" fill="#505050" text-anchor="end">4</text>
<line x1="282.00" y1="400.00" x2="710.90" y2="400.00" stroke="#e9e9e9" stroke-width="0.35" />
<text x="280.00" y="401.15" font-size="3.3" fill="#505050" text-anchor="end">5</text>
<line x1="282.00" y1="379.50" x2="710.90" y2="379.50" stroke="#e9e9e9" stroke-width="0.35" />
<text x="280.00" y="380.65" font-size="3.3" fill="#505050" text-anchor="end">6</text>
<line x1="282.00" y1="359.00" x2="710.90" y2="359.00" stroke="#e9e9e9" stroke-width="0.35" />
<text x="280.00" y="360.15" font-size="3.3" fill="#505050" text-anchor="end">7</text>
<line x1="282.00" y1="338.50" x2="710.90" y2="338.50" stroke="#e9e9e9" stroke-width="0.35" />
<text x="280.00" y="339.65" font-size="3.3" fill="#505050" text-anchor="end">8</text>
<line x1="282.00" y1="318.00" x2="710.90" y2="318.00" stroke="#e9e9e9" stroke-width="0.35" />
<text x="280.00" y="319.15" font-size="3.3" fill="#505050" text-anchor="end">9</text>
<line x1="282.00" y1="297.50" x2="710.90" y2="297.50" stroke="#e9e9e9" stroke-width="0.35" />
<text x="280.00" y="298.65" font-size="3.3" fill="#505050" text-anchor="end">10</text>
<line x1="710.90" y1="502.50" x2="712.10" y2="502.50" stroke="#e0e0e0" stroke-width="0.35" />
<text x="713.50" y="503.65" font-size="3.3" fill="#505050">0</text>
<line x1="710.90" y1="476.88" x2="712.10" y2="476.88" stroke="#e0e0e0" stroke-width="0.35" />
<text x="713.50" y="478.02" font-size="3.3" fill="#505050">2</text>
<line x1="710.90" y1="451.25" x2="712.10" y2="451.25" stroke="#e0e0e0" stroke-width="0.35" />
<text x="713.50" y="452.40" font-size="3.3" fill="#505050">4</text>
<line x1="710.90" y1="425.62" x2="712.10" y2="425.62" stroke="#e0e0e0" stroke-width="0.35" />
<text x="713.50" y="426.77" font-size="3.3" fill="#505050">6</text>
<line x1="710.90" y1="400.00" x2="712.10" y2="400.00" stroke="#e0e0e0" stroke-width="0.35" />
<text x="713.50" y="401.15" font-size="3.3" fill="#505050">8</text>
<line x1="710.90" y1="374.38" x2="712.10" y2="374.38" stroke="#e0e0e0" stroke-width="0.35" />
<text x="713.50" y="375.52" font-size="3.3" fill="#505050">10</text>
<line x1="710.90" y1="348.75" x2="712.10" y2="348.75" stroke="#e0e0e0" stroke-width="0.35" />
<text x="713.50" y="349.90" font-size="3.3" fill="#505050">12</text>
<line x1="710.90" y1="323.12" x2="712.10" y2="323.12" stroke="#e0e0e0" stroke-width="0.35" />
<text x="713.50" y="324.27" font-size="3.3" fill="#505050">14</text>
<line x1="710.90" y1="297.50" x2="712.10" y2="297.50" stroke="#e0e0e0" stroke-width="0.35" />
<text x="713.50" y="298.65" font-size="3.3" fill="#505050">16</text>
<rect x="436.86" y="482.00" width="4.7" height="20.50" fill="#bdbdbd" stroke="#a9a9a9" stroke-width="0.35"/>
<rect x="464.46" y="482.00" width="4.7" height="20.50" fill="#bdbdbd" stroke="#a9a9a9" stroke-width="0.35"/>
<rect x="478.25" y="482.00" width="4.7" height="20.50" fill="#bdbdbd" stroke="#a9a9a9" stroke-width="0.35"/>
<rect x="616.22" y="420.50" width="4.7" height="82.00" fill="#bdbdbd" stroke="#a9a9a9" stroke-width="0.35"/>
<rect x="657.61" y="482.00" width="4.7" height="20.50" fill="#bdbdbd" stroke="#a9a9a9" stroke-width="0.35"/>
<rect x="671.41" y="482.00" width="4.7" height="20.50" fill="#bdbdbd" stroke="#a9a9a9" stroke-width="0.35"/>
<rect x="442.16" y="297.50" width="4.7" height="205.00" fill="#828282" stroke="#5e5e5e" stroke-width="0.4"/>
<rect x="455.96" y="400.00" width="4.7" height="102.50" fill="#828282" stroke="#5e5e5e" stroke-width="0.4"/>
<rect x="524.94" y="482.00" width="4.7" height="20.50" fill="#828282" stroke="#5e5e5e" stroke-width="0.4"/>
<line x1="283.20" y1="502.50" x2="710.90" y2="502.50" stroke="#b5b5b5" stroke-width="0.4" />
<path d="M290.10,502.50 C295.62,502.50 298.38,502.50 303.90,502.50 C309.41,502.50 312.17,502.50 317.69,502.50 C323.21,502.50 325.97,502.50 331.49,502.50 C337.01,502.50 339.77,502.50 345.29,502.50 C350.80,502.50 353.56,502.50 359.08,502.50 C364.60,502.50 367.36,502.50 372.88,502.50 C378.40,502.50 381.16,502.50 386.68,502.50 C392.19,502.50 394.95,502.50 400.47,502.50 C405.99,502.50 408.75,502.50 414.27,502.50 C419.79,502.50 427.31,502.50 428.07,502.50 C438.35,432.80 433.64,352.46 441.86,315.44 C444.68,302.75 451.91,352.81 455.66,378.22 C462.95,427.64 459.52,457.73 469.46,502.50 C470.55,502.50 477.73,502.50 483.25,502.50 C488.77,502.50 491.53,502.50 497.05,502.50 C502.57,502.50 505.33,502.50 510.85,502.50 C516.37,502.50 519.12,502.50 524.64,502.50 C530.16,502.50 532.92,502.50 538.44,502.50 C543.96,502.50 546.72,502.50 552.24,502.50 C557.76,502.50 560.52,502.50 566.03,502.50 C571.55,502.50 574.31,502.50 579.83,502.50 C585.35,502.50 588.11,502.50 593.63,502.50 C599.15,502.50 601.91,502.50 607.42,502.50 C612.94,502.50 615.70,502.50 621.22,502.50 C626.74,502.50 629.50,502.50 635.02,502.50 C640.54,502.50 643.30,502.50 648.81,502.50 C654.33,502.50 657.09,502.50 662.61,502.50 C668.13,502.50 670.89,502.50 676.41,502.50 C681.93,502.50 684.69,502.50 690.20,502.50 C695.72,502.50 698.48,502.50 704.00,502.50" fill="none" stroke="#9df091" stroke-width="0.85"/>
<circle cx="290.10" cy="502.50" r="0.95" fill="#8eea82"/>
<circle cx="303.90" cy="502.50" r="0.95" fill="#8eea82"/>
<circle cx="317.69" cy="502.50" r="0.95" fill="#8eea82"/>
<circle cx="331.49" cy="502.50" r="0.95" fill="#8eea82"/>
<circle cx="345.29" cy="502.50" r="0.95" fill="#8eea82"/>
<circle cx="359.08" cy="502.50" r="0.95" fill="#8eea82"/>
<circle cx="372.88" cy="502.50" r="0.95" fill="#8eea82"/>
<circle cx="386.68" cy="502.50" r="0.95" fill="#8eea82"/>
<circle cx="400.47" cy="502.50" r="0.95" fill="#8eea82"/>
<circle cx="414.27" cy="502.50" r="0.95" fill="#8eea82"/>
<circle cx="428.07" cy="502.50" r="0.95" fill="#8eea82"/>
<circle cx="441.86" cy="315.44" r="0.95" fill="#8eea82"/>
<circle cx="455.66" cy="378.22" r="0.95" fill="#8eea82"/>
<circle cx="469.46" cy="502.50" r="0.95" fill="#8eea82"/>
<circle cx="483.25" cy="502.50" r="0.95" fill="#8eea82"/>
<circle cx="497.05" cy="502.50" r="0.95" fill="#8eea82"/>
<circle cx="510.85" cy="502.50" r="0.95" fill="#8eea82"/>
<circle cx="524.64" cy="502.50" r="0.95" fill="#8eea82"/>
<circle cx="538.44" cy="502.50" r="0.95" fill="#8eea82"/>
<circle cx="552.24" cy="502.50" r="0.95" fill="#8eea82"/>
<circle cx="566.03" cy="502.50" r="0.95" fill="#8eea82"/>
<circle cx="579.83" cy="502.50" r="0.95" fill="#8eea82"/>
<circle cx="593.63" cy="502.50" r="0.95" fill="#8eea82"/>
<circle cx="607.42" cy="502.50" r="0.95" fill="#8eea82"/>
<circle cx="621.22" cy="502.50" r="0.95" fill="#8eea82"/>
<circle cx="635.02" cy="502.50" r="0.95" fill="#8eea82"/>
<circle cx="648.81" cy="502.50" r="0.95" fill="#8eea82"/>
<circle cx="662.61" cy="502.50" r="0.95" fill="#8eea82"/>
<circle cx="676.41" cy="502.50" r="0.95" fill="#8eea82"/>
<circle cx="690.20" cy="502.50" r="0.95" fill="#8eea82"/>
<circle cx="704.00" cy="502.50" r="0.95" fill="#8eea82"/>
<path d="M290.10,502.50 C295.62,502.50 298.38,502.50 303.90,502.50 C309.41,502.50 312.17,502.50 317.69,502.50 C323.21,502.50 325.97,502.50 331.49,502.50 C337.01,502.50 339.77,502.50 345.29,502.50 C350.80,502.50 353.56,502.50 359.08,502.50 C364.60,502.50 367.36,502.50 372.88,502.50 C378.40,502.50 381.16,502.50 386.68,502.50 C392.19,502.50 394.95,502.50 400.47,502.50 C405.99,502.50 408.75,502.50 414.27,502.50 C419.79,502.50 426.41,502.50 428.07,502.50 C437.45,476.37 436.34,425.62 441.86,425.62 C447.38,425.62 446.86,482.57 455.66,502.50 C457.90,502.50 462.94,491.54 469.46,488.15 C473.97,485.80 478.73,485.80 483.25,488.15 C489.77,491.54 490.53,499.11 497.05,502.50 C501.57,502.50 505.33,502.50 510.85,502.50 C516.37,502.50 519.12,502.50 524.64,502.50 C530.16,502.50 532.92,502.50 538.44,502.50 C543.96,502.50 546.72,502.50 552.24,502.50 C557.76,502.50 560.52,502.50 566.03,502.50 C571.55,502.50 574.31,502.50 579.83,502.50 C585.35,502.50 588.11,502.50 593.63,502.50 C599.15,502.50 605.17,502.50 607.42,502.50 C616.21,485.99 615.70,450.61 621.22,450.61 C626.74,450.61 626.24,485.99 635.02,502.50 C637.27,502.50 644.30,502.50 648.81,502.50 C655.33,499.11 656.11,491.17 662.61,488.15 C667.15,486.04 671.72,487.25 676.41,489.69 C682.76,492.99 684.69,497.38 690.20,502.50" fill="none" stroke="#37cf2c" stroke-width="0.85"/>
<circle cx="290.10" cy="502.50" r="1.0" fill="#14c414"/>
<circle cx="303.90" cy="502.50" r="1.0" fill="#14c414"/>
<circle cx="317.69" cy="502.50" r="1.0" fill="#14c414"/>
<circle cx="331.49" cy="502.50" r="1.0" fill="#14c414"/>
<circle cx="345.29" cy="502.50" r="1.0" fill="#14c414"/>
<circle cx="359.08" cy="502.50" r="1.0" fill="#14c414"/>
<circle cx="372.88" cy="502.50" r="1.0" fill="#14c414"/>
<circle cx="386.68" cy="502.50" r="1.0" fill="#14c414"/>
<circle cx="400.47" cy="502.50" r="1.0" fill="#14c414"/>
<circle cx="414.27" cy="502.50" r="1.0" fill="#14c414"/>
<circle cx="428.07" cy="502.50" r="1.0" fill="#14c414"/>
<circle cx="441.86" cy="425.62" r="1.0" fill="#14c414"/>
<circle cx="455.66" cy="502.50" r="1.0" fill="#14c414"/>
<circle cx="469.46" cy="488.15" r="1.0" fill="#14c414"/>
<circle cx="483.25" cy="488.15" r="1.0" fill="#14c414"/>
<circle cx="497.05" cy="502.50" r="1.0" fill="#14c414"/>
<circle cx="510.85" cy="502.50" r="1.0" fill="#14c414"/>
<circle cx="524.64" cy="502.50" r="1.0" fill="#14c414"/>
<circle cx="538.44" cy="502.50" r="1.0" fill="#14c414"/>
<circle cx="552.24" cy="502.50" r="1.0" fill="#14c414"/>
<circle cx="566.03" cy="502.50" r="1.0" fill="#14c414"/>
<circle cx="579.83" cy="502.50" r="1.0" fill="#14c414"/>
<circle cx="593.63" cy="502.50" r="1.0" fill="#14c414"/>
<circle cx="607.42" cy="502.50" r="1.0" fill="#14c414"/>
<circle cx="621.22" cy="450.61" r="1.0" fill="#14c414"/>
<circle cx="635.02" cy="502.50" r="1.0" fill="#14c414"/>
<circle cx="648.81" cy="502.50" r="1.0" fill="#14c414"/>
<circle cx="662.61" cy="488.15" r="1.0" fill="#14c414"/>
<circle cx="676.41" cy="489.69" r="1.0" fill="#14c414"/>
<circle cx="690.20" cy="502.50" r="1.0" fill="#14c414"/>
<text x="290.10" y="507.90" font-size="3.3" fill="#505050" text-anchor="middle">1</text>
<text x="303.90" y="507.90" font-size="3.3" fill="#505050" text-anchor="middle">2</text>
<text x="317.69" y="507.90" font-size="3.3" fill="#505050" text-anchor="middle">3</text>
<text x="331.49" y="507.90" font-size="3.3" fill="#505050" text-anchor="middle">4</text>
<text x="345.29" y="507.90" font-size="3.3" fill="#505050" text-anchor="middle">5</text>
<text x="359.08" y="507.90" font-size="3.3" fill="#505050" text-anchor="middle">6</text>
<text x="372.88" y="507.90" font-size="3.3" fill="#505050" text-anchor="middle">7</text>
<text x="386.68" y="507.90" font-size="3.3" fill="#505050" text-anchor="middle">8</text>
<text x="400.47" y="507.90" font-size="3.3" fill="#505050" text-anchor="middle">9</text>
<text x="414.27" y="507.90" font-size="3.3" fill="#505050" text-anchor="middle">10</text>
<text x="428.07" y="507.90" font-size="3.3" fill="#505050" text-anchor="middle">11</text>
<text x="441.86" y="507.90" font-size="3.3" fill="#505050" text-anchor="middle">12</text>
<text x="455.66" y="507.90" font-size="3.3" fill="#505050" text-anchor="middle">13</text>
<text x="469.46" y="507.90" font-size="3.3" fill="#505050" text-anchor="middle">14</text>
<text x="483.25" y="507.90" font-size="3.3" fill="#505050" text-anchor="middle">15</text>
<text x="497.05" y="507.90" font-size="3.3" fill="#505050" text-anchor="middle">16</text>
<text x="510.85" y="507.90" font-size="3.3" fill="#505050" text-anchor="middle">17</text>
<text x="524.64" y="507.90" font-size="3.3" fill="#505050" text-anchor="middle">18</text>
<text x="538.44" y="507.90" font-size="3.3" fill="#505050" text-anchor="middle">19</text>
<text x="552.24" y="507.90" font-size="3.3" fill="#505050" text-anchor="middle">20</text>
<text x="566.03" y="507.90" font-size="3.3" fill="#505050" text-anchor="middle">21</text>
<text x="579.83" y="507.90" font-size="3.3" fill="#505050" text-anchor="middle">22</text>
<text x="593.63" y="507.90" font-size="3.3" fill="#505050" text-anchor="middle">23</text>
<text x="607.42" y="507.90" font-size="3.3" fill="#505050" text-anchor="middle">24</text>
<text x="621.22" y="507.90" font-size="3.3" fill="#505050" text-anchor="middle">25</text>
<text x="635.02" y="507.90" font-size="3.3" fill="#505050" text-anchor="middle">26</text>
<text x="648.81" y="507.90" font-size="3.3" fill="#505050" text-anchor="middle">27</text>
<text x="662.61" y="507.90" font-size="3.3" fill="#505050" text-anchor="middle">28</text>
<text x="676.41" y="507.90" font-size="3.3" fill="#505050" text-anchor="middle">29</text>
<text x="690.20" y="507.90" font-size="3.3" fill="#505050" text-anchor="middle">30</text>
<text x="704.00" y="507.90" font-size="3.3" fill="#505050" text-anchor="middle">31</text>
<text x="497.00" y="514.20" font-size="3.3" fill="#505050" text-anchor="middle">Days</text>
<text transform="translate(272.6,400) rotate(-90)" font-size="3.4" fill="#505050" text-anchor="middle" textLength="45.5" lengthAdjust="spacingAndGlyphs">Number Of Transaction (Count)</text>
<text transform="translate(721.2,400) rotate(90)" font-size="3.4" fill="#505050" text-anchor="middle" textLength="63" lengthAdjust="spacingAndGlyphs">Value Of Transaction (Amount in currency)</text>
<rect x="408.8" y="291.7" width="11.1" height="3.2" fill="#2bc927" stroke="#1fae1f" stroke-width="0.4"/>
<text x="421.50" y="294.40" font-size="3.1" fill="#505050">Value : last month</text>
<rect x="449.9" y="291.7" width="11.1" height="3.2" fill="#a9f29f" stroke="#8fe884" stroke-width="0.4"/>
<text x="462.60" y="294.40" font-size="3.1" fill="#505050">Value : current month</text>
<rect x="496" y="291.7" width="11.1" height="3.2" fill="#bdbdbd" stroke="#a5a5a5" stroke-width="0.4"/>
<text x="508.90" y="294.40" font-size="3.1" fill="#505050">Count : last month</text>
<rect x="537.9" y="291.7" width="11.1" height="3.2" fill="#828282" stroke="#5e5e5e" stroke-width="0.4"/>
<text x="550.60" y="294.40" font-size="3.1" fill="#505050">Count : current month</text>
<line x1="266.00" y1="519.00" x2="728.00" y2="519.00" stroke="#f0f0f0" stroke-width="0.5" />
<rect x="266.00" y="524.45" width="305.00" height="1.30" fill="#2b2b2b" />
<text x="268.80" y="532.90" font-size="4.9" fill="#2a2a2a" textLength="88.5" lengthAdjust="spacingAndGlyphs">Notification Endpoint Error Of 4XX and 5XX</text>
<rect x="446.9" y="528.2" width="47.0" height="6.6" fill="#f1f1f1" stroke="#ddd" stroke-width="0.35"/>
<text x="470.40" y="532.60" font-size="3.0" fill="#555" text-anchor="middle">19-05-2022</text>
<rect x="502.6" y="528.2" width="46.4" height="6.6" fill="#f1f1f1" stroke="#ddd" stroke-width="0.35"/>
<text x="525.80" y="532.60" font-size="3.0" fill="#555" text-anchor="middle">19-05-2022</text>
<rect x="493.9" y="528.2" width="8.7" height="6.6" fill="#fafafa" stroke="#ddd" stroke-width="0.35"/>
<text x="498.30" y="532.60" font-size="3.0" fill="#555" text-anchor="middle">to</text>
<rect x="551.7" y="528.2" width="8.9" height="6.6" fill="#f4f4f4" stroke="#ddd" stroke-width="0.35"/>
<text x="556.10" y="532.60" font-size="3.0" fill="#555" text-anchor="middle">Go</text>
<line x1="564.60" y1="531.40" x2="566.40" y2="531.40" stroke="#7686b0" stroke-width="0.6" />
<line x1="266.00" y1="536.60" x2="571.00" y2="536.60" stroke="#eee" stroke-width="0.5" />
<rect x="266.00" y="525.90" width="305.00" height="14.00" fill="#fff" fill-opacity="0.72"/>
<g transform="translate(-0.2,0.4)"><g fill="none" stroke="#111" stroke-width="1.3"><path d="M415.0,530.2 A3.3,3.3 0 0 1 420.9,529.3"/><path d="M421.4,531.8 A3.3,3.3 0 0 1 415.5,532.7"/></g>
<path d="M422.3,527.2 v3.4 h-3.4 z M414.1,534.8 v-3.4 h3.4 z" fill="#111"/></g>
<rect x="580.00" y="524.45" width="148.00" height="1.30" fill="#2b2b2b" />
<text x="582.00" y="532.90" font-size="4.9" fill="#2a2a2a" textLength="56.7" lengthAdjust="spacingAndGlyphs">Notification Endpoint Error</text>
<line x1="722.20" y1="531.40" x2="723.60" y2="531.40" stroke="#5a6aa0" stroke-width="0.7" />
<line x1="580.00" y1="536.60" x2="728.00" y2="536.60" stroke="#eee" stroke-width="0.5" />
<line x1="264.00" y1="549.60" x2="392.00" y2="549.60" stroke="#f4f4f4" stroke-width="0.5" />
</g>
<rect x="0" y="240" width="16" height="323" fill="url(#shL)"/>
<path d="M13.4,561.8 V145.7 A30.5,30.5 0 0 1 43.9,115.2 H199 A30.5,30.5 0 0 1 229.5,145.7 V531.3 A30.5,30.5 0 0 1 199,561.8 H43.9 A30.5,30.5 0 0 1 13.4,531.3 Z" fill="url(#bezelR)"/>
<path d="M13.4,561.8 V145.7 A30.5,30.5 0 0 1 43.9,115.2 H199 A30.5,30.5 0 0 1 229.5,145.7 V531.3 A30.5,30.5 0 0 1 199,561.8 H43.9 A30.5,30.5 0 0 1 13.4,531.3 Z" fill="url(#bezelB)"/>
<g clip-path="url(#bezclip)"><g clip-path="url(#rightonly)"><path d="M22,552 V146 A22,22 0 0 1 44,124.5 H198 A21.5,21.5 0 0 1 219.6,146 V530 A22,22 0 0 1 197.6,552 H44 A22,22 0 0 1 22,530 Z" transform="translate(2.4,0.6)" fill="#c9cddb" filter="url(#blur2)"/></g></g>
<rect x="229.30" y="239.00" width="1.50" height="49.00" fill="#dadde7" />
<g clip-path="url(#screen)">
<rect x="20.00" y="120.00" width="202.00" height="436.00" fill="#fff" />
<rect x="20.00" y="120.00" width="202.00" height="44.50" fill="#5ad948" />
<rect x="20.00" y="163.20" width="202.00" height="1.30" fill="#42d32f" />
<path d="M20,120 H27.3 L47.4,163.3 H20 Z" fill="#4bd637"/>
<rect x="46.7" y="146.4" width="33" height="14" fill="#5ad848" stroke="#0a0a0a" stroke-width="1"/>
<rect x="46.70" y="155.30" width="33.00" height="5.10" fill="#0a0a0a" />
<text x="64.30" y="153.40" font-size="6.3" fill="#0a0a0a" text-anchor="middle" letter-spacing="1.9" stroke="#0a0a0a" stroke-width="0.12">RAZER</text>
<text x="63.30" y="159.20" font-size="2.6" fill="#5ad848" text-anchor="middle" font-weight="bold" letter-spacing="0.12">MERCHANT SERVICES</text>
<path d="M131.8,157.0 h5 l-0.8,-1.0 v-1.4 a1.7,1.7 0 0 0 -3.4,0 v1.4 z M133.6,157.3 a0.7,0.7 0 0 0 1.4,0 z" fill="#111"/>
<circle cx="140.0" cy="152.2" r="3.1" fill="#9b80a0"/>
<text x="140.00" y="153.50" font-size="3.6" fill="#fff" text-anchor="middle" font-weight="bold">5</text>
<path d="M154.7,154.9 h3.7 v2.6 h-3.7 z" fill="#111"/><path d="M155.5,155 v-0.9 a1.05,1.05 0 0 1 2.1,0 v0.9" fill="none" stroke="#111" stroke-width="0.75"/>
<circle cx="174.4" cy="154.4" r="4.8" fill="#eddded"/>
<text x="174.40" y="155.30" font-size="2.5" fill="#9a909a" text-anchor="middle">5x5</text>
<g fill="#111"><circle cx="192.0" cy="155.5" r="1.25" fill="none" stroke="#111" stroke-width="0.95"/><circle cx="195.2" cy="153.8" r="1.0"/><circle cx="195.2" cy="157.2" r="1.0"/><path d="M192.6,155.2 L195.2,153.8 M192.6,155.8 L195.2,157.2" stroke="#111" stroke-width="0.7"/></g>
<text x="46.30" y="176.10" font-size="4.55" fill="#44d62c" font-weight="bold" letter-spacing="0.65">Thursday | 19th May 2022</text>
<text x="46.20" y="191.80" font-size="14.2" fill="#1a1a1a" letter-spacing="2.5" stroke="#1a1a1a" stroke-width="0.2">DASHBOARD</text>
<text x="47.60" y="212.50" font-size="6.1" fill="#2e2e2e" letter-spacing="0.6">ACCOUNT BALANCE</text>
<text x="166.70" y="204.60" font-size="3.2" fill="#222" textLength="26.1" lengthAdjust="spacingAndGlyphs">COSMETIC_SHOP</text>
<rect x="145.5" y="207.2" width="48.6" height="6" rx="0.5" fill="#fff" stroke="#d8dce4" stroke-width="0.4"/>
<text x="148.70" y="211.20" font-size="2.75" fill="#3c3c3c" textLength="39.3" lengthAdjust="spacingAndGlyphs">Select Submerchant Dashboard</text>
<path d="M189.9,209.8 l0.9,1.0 l0.9,-1.0" fill="none" stroke="#333" stroke-width="0.45"/>
<rect x="47.60" y="218.60" width="29.90" height="19.00" fill="#ececec" />
<rect x="79.20" y="218.60" width="115.70" height="19.00" fill="#ececec" />
<text x="62.70" y="224.20" font-size="4.5" fill="#222" text-anchor="middle" font-weight="bold">MYR</text>
<rect x="55.40" y="226.30" width="14.80" height="10.00" fill="#fdf2fd" opacity="0.9"/>
<rect x="55.90" y="226.80" width="13.80" height="9.00" fill="#1fd01f" />
<path d="M59.29,228.33 H66.31 A1.80,1.80 0 0 0 68.11,230.13 V232.47 A1.80,1.80 0 0 0 66.31,234.27 H59.29 A1.80,1.80 0 0 0 57.49,232.47 V230.13 A1.80,1.80 0 0 0 59.29,228.33 Z" fill="#fff"/>
<ellipse cx="62.80" cy="231.30" rx="2.28" ry="2.70" fill="#1fd01f"/>
<path d="M62.32,229.86 h0.83 v2.70 h-0.83 z" fill="#fff"/>
<rect x="82.20" y="221.50" width="3.10" height="3.10" fill="#444" />
<rect x="82.82" y="222.06" width="0.68" height="0.62" fill="#eee" />
<rect x="84.00" y="222.06" width="0.68" height="0.62" fill="#eee" />
<rect x="81.83" y="224.29" width="3.84" height="0.68" fill="#444" />
<text x="130.40" y="231.20" font-size="6.6" fill="#222" text-anchor="middle" font-weight="bold">1,859.71</text>
<rect x="47.60" y="241.60" width="29.90" height="19.00" fill="#ececec" />
<rect x="79.20" y="241.60" width="115.70" height="19.00" fill="#ececec" />
<text x="62.70" y="247.20" font-size="4.5" fill="#222" text-anchor="middle" font-weight="bold">CNY</text>
<rect x="55.40" y="249.30" width="14.80" height="10.00" fill="#fdf2fd" opacity="0.9"/>
<rect x="55.90" y="249.80" width="13.80" height="9.00" fill="#1fd01f" />
<path d="M59.29,251.33 H66.31 A1.80,1.80 0 0 0 68.11,253.13 V255.47 A1.80,1.80 0 0 0 66.31,257.27 H59.29 A1.80,1.80 0 0 0 57.49,255.47 V253.13 A1.80,1.80 0 0 0 59.29,251.33 Z" fill="#fff"/>
<ellipse cx="62.80" cy="254.30" rx="2.28" ry="2.70" fill="#1fd01f"/>
<path d="M62.32,252.86 h0.83 v2.70 h-0.83 z" fill="#fff"/>
<rect x="82.20" y="244.50" width="3.10" height="3.10" fill="#444" />
<rect x="82.82" y="245.06" width="0.68" height="0.62" fill="#eee" />
<rect x="84.00" y="245.06" width="0.68" height="0.62" fill="#eee" />
<rect x="81.83" y="247.29" width="3.84" height="0.68" fill="#444" />
<text x="130.40" y="254.20" font-size="6.6" fill="#222" text-anchor="middle" font-weight="bold">0.50</text>
<rect x="47.60" y="264.40" width="29.90" height="19.00" fill="#ececec" />
<rect x="79.20" y="264.40" width="115.70" height="19.00" fill="#ececec" />
<text x="62.70" y="270.00" font-size="4.5" fill="#222" text-anchor="middle" font-weight="bold">IDR</text>
<rect x="55.40" y="272.10" width="14.80" height="10.00" fill="#fdf2fd" opacity="0.9"/>
<rect x="55.90" y="272.60" width="13.80" height="9.00" fill="#1fd01f" />
<path d="M59.29,274.13 H66.31 A1.80,1.80 0 0 0 68.11,275.93 V278.27 A1.80,1.80 0 0 0 66.31,280.07 H59.29 A1.80,1.80 0 0 0 57.49,278.27 V275.93 A1.80,1.80 0 0 0 59.29,274.13 Z" fill="#fff"/>
<ellipse cx="62.80" cy="277.10" rx="2.28" ry="2.70" fill="#1fd01f"/>
<path d="M62.32,275.66 h0.83 v2.70 h-0.83 z" fill="#fff"/>
<rect x="82.20" y="267.30" width="3.10" height="3.10" fill="#444" />
<rect x="82.82" y="267.86" width="0.68" height="0.62" fill="#eee" />
<rect x="84.00" y="267.86" width="0.68" height="0.62" fill="#eee" />
<rect x="81.83" y="270.09" width="3.84" height="0.68" fill="#444" />
<text x="130.40" y="277.00" font-size="6.6" fill="#222" text-anchor="middle" font-weight="bold">116,400.00</text>
<text x="47.40" y="298.20" font-size="6.1" fill="#2e2e2e" letter-spacing="0.6">SALES</text>
<rect x="47.60" y="304.60" width="29.90" height="19.00" fill="#ececec" />
<rect x="79.20" y="304.60" width="115.70" height="19.00" fill="#ececec" />
<text x="62.70" y="310.20" font-size="4.5" fill="#222" text-anchor="middle" font-weight="bold">MYR</text>
<rect x="55.40" y="312.30" width="14.80" height="10.00" fill="#fdf2fd" opacity="0.9"/>
<rect x="55.90" y="312.80" width="13.80" height="9.00" fill="#1fd01f" />
<path d="M59.29,314.33 H66.31 A1.80,1.80 0 0 0 68.11,316.13 V318.47 A1.80,1.80 0 0 0 66.31,320.27 H59.29 A1.80,1.80 0 0 0 57.49,318.47 V316.13 A1.80,1.80 0 0 0 59.29,314.33 Z" fill="#fff"/>
<ellipse cx="62.80" cy="317.30" rx="2.28" ry="2.70" fill="#1fd01f"/>
<path d="M62.32,315.86 h0.83 v2.70 h-0.83 z" fill="#fff"/>
<rect x="82.20" y="307.50" width="3.10" height="3.10" fill="#444" />
<rect x="82.82" y="308.06" width="0.68" height="0.62" fill="#eee" />
<rect x="84.00" y="308.06" width="0.68" height="0.62" fill="#eee" />
<rect x="81.83" y="310.29" width="3.84" height="0.68" fill="#444" />
<text x="130.40" y="317.20" font-size="6.6" fill="#222" text-anchor="middle" font-weight="bold">859.00</text>
<rect x="47.60" y="327.60" width="29.90" height="19.00" fill="#ececec" />
<rect x="79.20" y="327.60" width="115.70" height="19.00" fill="#ececec" />
<text x="62.70" y="333.20" font-size="4.5" fill="#222" text-anchor="middle" font-weight="bold">SGD</text>
<rect x="55.40" y="335.30" width="14.80" height="10.00" fill="#fdf2fd" opacity="0.9"/>
<rect x="55.90" y="335.80" width="13.80" height="9.00" fill="#1fd01f" />
<path d="M59.29,337.33 H66.31 A1.80,1.80 0 0 0 68.11,339.13 V341.47 A1.80,1.80 0 0 0 66.31,343.27 H59.29 A1.80,1.80 0 0 0 57.49,341.47 V339.13 A1.80,1.80 0 0 0 59.29,337.33 Z" fill="#fff"/>
<ellipse cx="62.80" cy="340.30" rx="2.28" ry="2.70" fill="#1fd01f"/>
<path d="M62.32,338.86 h0.83 v2.70 h-0.83 z" fill="#fff"/>
<rect x="82.20" y="330.50" width="3.10" height="3.10" fill="#444" />
<rect x="82.82" y="331.06" width="0.68" height="0.62" fill="#eee" />
<rect x="84.00" y="331.06" width="0.68" height="0.62" fill="#eee" />
<rect x="81.83" y="333.29" width="3.84" height="0.68" fill="#444" />
<text x="130.40" y="340.20" font-size="6.6" fill="#222" text-anchor="middle" font-weight="bold">535.20</text>
<rect x="46.30" y="354.05" width="148.70" height="1.30" fill="#2b2b2b" />
<text x="46.80" y="363.60" font-size="5.6" fill="#2a2a2a" textLength="113.7" lengthAdjust="spacingAndGlyphs"><tspan font-weight="bold">Current</tspan> vs <tspan font-weight="bold">Last</tspan> Week on Number Of Transaction</text>
<line x1="46.30" y1="369.60" x2="195.00" y2="369.60" stroke="#eeeeee" stroke-width="0.5" />
<rect x="164.10" y="358.10" width="22.80" height="8.20" fill="#fff" stroke="#d8dce4" stroke-width="0.4"/>
<text x="168.66" y="363.42" font-size="3.4" fill="#3a3a3a">MYR</text>
<path d="M181.94,361.69 L183.02,362.88 L184.11,361.69" fill="none" stroke="#333" stroke-width="0.58"/>
<line x1="189.98" y1="362.20" x2="192.42" y2="362.20" stroke="#7686b0" stroke-width="0.68" />
<line x1="54.20" y1="437.10" x2="190.70" y2="437.10" stroke="#e9e9e9" stroke-width="0.35" />
<text x="52.80" y="438.36" font-size="3.5" fill="#4a4a4a" text-anchor="end">0</text>
<line x1="54.20" y1="431.53" x2="190.70" y2="431.53" stroke="#e9e9e9" stroke-width="0.35" />
<text x="52.80" y="432.79" font-size="3.5" fill="#4a4a4a" text-anchor="end">1</text>
<line x1="54.20" y1="425.96" x2="190.70" y2="425.96" stroke="#e9e9e9" stroke-width="0.35" />
<text x="52.80" y="427.22" font-size="3.5" fill="#4a4a4a" text-anchor="end">2</text>
<line x1="54.20" y1="420.39" x2="190.70" y2="420.39" stroke="#e9e9e9" stroke-width="0.35" />
<text x="52.80" y="421.65" font-size="3.5" fill="#4a4a4a" text-anchor="end">3</text>
<line x1="54.20" y1="414.82" x2="190.70" y2="414.82" stroke="#e9e9e9" stroke-width="0.35" />
<text x="52.80" y="416.08" font-size="3.5" fill="#4a4a4a" text-anchor="end">4</text>
<line x1="54.20" y1="409.25" x2="190.70" y2="409.25" stroke="#e9e9e9" stroke-width="0.35" />
<text x="52.80" y="410.51" font-size="3.5" fill="#4a4a4a" text-anchor="end">5</text>
<line x1="54.20" y1="403.68" x2="190.70" y2="403.68" stroke="#e9e9e9" stroke-width="0.35" />
<text x="52.80" y="404.94" font-size="3.5" fill="#4a4a4a" text-anchor="end">6</text>
<line x1="54.20" y1="398.11" x2="190.70" y2="398.11" stroke="#e9e9e9" stroke-width="0.35" />
<text x="52.80" y="399.37" font-size="3.5" fill="#4a4a4a" text-anchor="end">7</text>
<line x1="54.20" y1="392.54" x2="190.70" y2="392.54" stroke="#e9e9e9" stroke-width="0.35" />
<text x="52.80" y="393.80" font-size="3.5" fill="#4a4a4a" text-anchor="end">8</text>
<line x1="54.20" y1="386.97" x2="190.70" y2="386.97" stroke="#e9e9e9" stroke-width="0.35" />
<text x="52.80" y="388.23" font-size="3.5" fill="#4a4a4a" text-anchor="end">9</text>
<line x1="54.20" y1="381.40" x2="190.70" y2="381.40" stroke="#e9e9e9" stroke-width="0.35" />
<text x="52.80" y="382.66" font-size="3.5" fill="#4a4a4a" text-anchor="end">10</text>
<line x1="55.40" y1="381.40" x2="55.40" y2="438.30" stroke="#e9e9e9" stroke-width="0.35" />
<line x1="77.95" y1="381.40" x2="77.95" y2="438.30" stroke="#e9e9e9" stroke-width="0.35" />
<line x1="100.50" y1="381.40" x2="100.50" y2="438.30" stroke="#e9e9e9" stroke-width="0.35" />
<line x1="123.05" y1="381.40" x2="123.05" y2="438.30" stroke="#e9e9e9" stroke-width="0.35" />
<line x1="145.60" y1="381.40" x2="145.60" y2="438.30" stroke="#e9e9e9" stroke-width="0.35" />
<line x1="168.15" y1="381.40" x2="168.15" y2="438.30" stroke="#e9e9e9" stroke-width="0.35" />
<line x1="190.70" y1="381.40" x2="190.70" y2="438.30" stroke="#e9e9e9" stroke-width="0.35" />
<text x="55.40" y="443.30" font-size="3.5" fill="#4a4a4a" text-anchor="middle">Sun</text>
<text x="77.95" y="443.30" font-size="3.5" fill="#4a4a4a" text-anchor="middle">Mon</text>
<text x="100.50" y="443.30" font-size="3.5" fill="#4a4a4a" text-anchor="middle">Tue</text>
<text x="123.05" y="443.30" font-size="3.5" fill="#4a4a4a" text-anchor="middle">Wed</text>
<text x="145.60" y="443.30" font-size="3.5" fill="#4a4a4a" text-anchor="middle">Thu</text>
<text x="168.15" y="443.30" font-size="3.5" fill="#4a4a4a" text-anchor="middle">Fri</text>
<text x="190.70" y="443.30" font-size="3.5" fill="#4a4a4a" text-anchor="middle">Sat</text>
<path d="M55.40,437.10 C64.42,437.10 68.93,437.10 77.95,437.10 C86.97,437.10 91.48,437.10 100.50,437.10 C109.52,437.10 118.13,437.10 123.05,437.10 C136.17,420.90 134.30,388.38 145.60,381.40 C152.34,381.40 159.13,398.11 168.15,409.25 C177.17,420.39 181.68,425.96 190.70,437.10 L190.70,437.10 L55.40,437.10 Z" fill="#b3f6a9" fill-opacity="0.95"/>
<path d="M55.40,437.10 C64.42,437.10 68.93,437.10 77.95,437.10 C86.97,437.10 91.48,437.10 100.50,437.10 C109.52,437.10 118.13,437.10 123.05,437.10 C136.17,420.90 134.30,388.38 145.60,381.40 C152.34,381.40 159.13,398.11 168.15,409.25 C177.17,420.39 181.68,425.96 190.70,437.10" fill="none" stroke="#7fbf78" stroke-width="0.4"/>
<path d="M55.40,437.10 C64.42,437.10 68.93,437.10 77.95,437.10 C86.97,437.10 91.61,437.10 100.50,437.10 C109.65,435.97 114.03,431.53 123.05,431.53 C132.07,431.53 136.45,435.97 145.60,437.10 C154.49,437.10 159.13,437.10 168.15,437.10 C177.17,437.10 181.68,437.10 190.70,437.10 L190.70,437.10 L55.40,437.10 Z" fill="#36d12d" fill-opacity="0.96"/>
<path d="M55.40,437.10 C64.42,437.10 68.93,437.10 77.95,437.10 C86.97,437.10 91.61,437.10 100.50,437.10 C109.65,435.97 114.03,431.53 123.05,431.53 C132.07,431.53 136.45,435.97 145.60,437.10 C154.49,437.10 159.13,437.10 168.15,437.10 C177.17,437.10 181.68,437.10 190.70,437.10" fill="none" stroke="#2fc42a" stroke-width="0.3"/>
<line x1="55.40" y1="437.10" x2="190.70" y2="437.10" stroke="#9c9c9c" stroke-width="0.4" />
<circle cx="55.40" cy="437.10" r="0.9" fill="#12b812"/>
<circle cx="77.95" cy="437.10" r="0.9" fill="#12b812"/>
<circle cx="100.50" cy="437.10" r="0.9" fill="#12b812"/>
<circle cx="123.05" cy="431.53" r="0.9" fill="#12b812"/>
<circle cx="145.60" cy="437.10" r="0.9" fill="#12b812"/>
<circle cx="168.15" cy="437.10" r="0.9" fill="#12b812"/>
<circle cx="190.70" cy="437.10" r="0.9" fill="#12b812"/>
<rect x="81.80" y="375.20" width="12.70" height="3.60" fill="#2bc927" />
<text x="96.20" y="378.26" font-size="3.5" fill="#505050">Current Week</text>
<rect x="122.80" y="375.20" width="12.70" height="3.60" fill="#b3f6a9" />
<text x="137.30" y="378.26" font-size="3.5" fill="#505050">Last Week</text>
<line x1="46.30" y1="449.60" x2="195.00" y2="449.60" stroke="#eee" stroke-width="0.5" />
<rect x="46.30" y="456.15" width="148.70" height="1.30" fill="#2b2b2b" />
<text x="46.80" y="465.40" font-size="5.6" fill="#2a2a2a" textLength="106.9" lengthAdjust="spacingAndGlyphs"><tspan font-weight="bold">Current</tspan> vs <tspan font-weight="bold">Last</tspan> Week on Value Of Transaction</text>
<line x1="46.30" y1="471.50" x2="195.00" y2="471.50" stroke="#eeeeee" stroke-width="0.5" />
<rect x="164.10" y="460.00" width="22.80" height="8.20" fill="#fff" stroke="#d8dce4" stroke-width="0.4"/>
<text x="168.66" y="465.32" font-size="3.4" fill="#3a3a3a">MYR</text>
<path d="M181.94,463.59 L183.02,464.78 L184.11,463.59" fill="none" stroke="#333" stroke-width="0.58"/>
<line x1="189.98" y1="464.10" x2="192.42" y2="464.10" stroke="#7686b0" stroke-width="0.68" />
<line x1="54.40" y1="537.80" x2="190.00" y2="537.80" stroke="#e9e9e9" stroke-width="0.35" />
<text x="53.00" y="539.06" font-size="3.5" fill="#4a4a4a" text-anchor="end">0</text>
<line x1="54.40" y1="530.96" x2="190.00" y2="530.96" stroke="#e9e9e9" stroke-width="0.35" />
<text x="53.00" y="532.22" font-size="3.5" fill="#4a4a4a" text-anchor="end">2</text>
<line x1="54.40" y1="524.12" x2="190.00" y2="524.12" stroke="#e9e9e9" stroke-width="0.35" />
<text x="53.00" y="525.38" font-size="3.5" fill="#4a4a4a" text-anchor="end">4</text>
<line x1="54.40" y1="517.29" x2="190.00" y2="517.29" stroke="#e9e9e9" stroke-width="0.35" />
<text x="53.00" y="518.55" font-size="3.5" fill="#4a4a4a" text-anchor="end">6</text>
<line x1="54.40" y1="510.45" x2="190.00" y2="510.45" stroke="#e9e9e9" stroke-width="0.35" />
<text x="53.00" y="511.71" font-size="3.5" fill="#4a4a4a" text-anchor="end">8</text>
<line x1="54.40" y1="503.61" x2="190.00" y2="503.61" stroke="#e9e9e9" stroke-width="0.35" />
<text x="53.00" y="504.87" font-size="3.5" fill="#4a4a4a" text-anchor="end">10</text>
<line x1="54.40" y1="496.77" x2="190.00" y2="496.77" stroke="#e9e9e9" stroke-width="0.35" />
<text x="53.00" y="498.03" font-size="3.5" fill="#4a4a4a" text-anchor="end">12</text>
<line x1="54.40" y1="489.94" x2="190.00" y2="489.94" stroke="#e9e9e9" stroke-width="0.35" />
<text x="53.00" y="491.20" font-size="3.5" fill="#4a4a4a" text-anchor="end">14</text>
<line x1="54.40" y1="483.10" x2="190.00" y2="483.10" stroke="#e9e9e9" stroke-width="0.35" />
<text x="53.00" y="484.36" font-size="3.5" fill="#4a4a4a" text-anchor="end">16</text>
<line x1="55.60" y1="483.10" x2="55.60" y2="539.00" stroke="#e9e9e9" stroke-width="0.35" />
<line x1="78.00" y1="483.10" x2="78.00" y2="539.00" stroke="#e9e9e9" stroke-width="0.35" />
<line x1="100.40" y1="483.10" x2="100.40" y2="539.00" stroke="#e9e9e9" stroke-width="0.35" />
<line x1="122.80" y1="483.10" x2="122.80" y2="539.00" stroke="#e9e9e9" stroke-width="0.35" />
<line x1="145.20" y1="483.10" x2="145.20" y2="539.00" stroke="#e9e9e9" stroke-width="0.35" />
<line x1="167.60" y1="483.10" x2="167.60" y2="539.00" stroke="#e9e9e9" stroke-width="0.35" />
<line x1="190.00" y1="483.10" x2="190.00" y2="539.00" stroke="#e9e9e9" stroke-width="0.35" />
<text x="55.60" y="543.80" font-size="3.5" fill="#4a4a4a" text-anchor="middle">Sun</text>
<text x="78.00" y="543.80" font-size="3.5" fill="#4a4a4a" text-anchor="middle">Mon</text>
<text x="100.40" y="543.80" font-size="3.5" fill="#4a4a4a" text-anchor="middle">Tue</text>
<text x="122.80" y="543.80" font-size="3.5" fill="#4a4a4a" text-anchor="middle">Wed</text>
<text x="145.20" y="543.80" font-size="3.5" fill="#4a4a4a" text-anchor="middle">Thu</text>
<text x="167.60" y="543.80" font-size="3.5" fill="#4a4a4a" text-anchor="middle">Fri</text>
<text x="190.00" y="543.80" font-size="3.5" fill="#4a4a4a" text-anchor="middle">Sat</text>
<path d="M55.60,537.80 C64.56,537.80 69.04,537.80 78.00,537.80 C86.96,537.80 91.44,537.80 100.40,537.80 C109.36,537.80 117.59,537.80 122.80,537.80 C135.51,523.63 133.37,496.55 145.20,487.89 C151.29,483.42 160.16,496.70 167.60,504.98 C178.08,516.66 181.04,524.67 190.00,537.80 L190.00,537.80 L55.60,537.80 Z" fill="#b3f6a9" fill-opacity="0.95"/>
<path d="M55.60,537.80 C64.56,537.80 69.04,537.80 78.00,537.80 C86.96,537.80 91.44,537.80 100.40,537.80 C109.36,537.80 117.59,537.80 122.80,537.80 C135.51,523.63 133.37,496.55 145.20,487.89 C151.29,483.42 160.16,496.70 167.60,504.98 C178.08,516.66 181.04,524.67 190.00,537.80" fill="none" stroke="#7fbf78" stroke-width="0.4"/>
<path d="M55.60,537.80 C64.56,537.80 69.04,537.80 78.00,537.80 C86.96,537.80 91.44,537.80 100.40,537.80 C109.36,537.76 113.84,537.59 122.80,537.59 C131.76,537.59 136.24,537.76 145.20,537.80 C154.16,537.80 158.64,537.80 167.60,537.80 C176.56,537.80 181.04,537.80 190.00,537.80 L190.00,537.80 L55.60,537.80 Z" fill="#36d12d" fill-opacity="0.96"/>
<path d="M55.60,537.80 C64.56,537.80 69.04,537.80 78.00,537.80 C86.96,537.80 91.44,537.80 100.40,537.80 C109.36,537.76 113.84,537.59 122.80,537.59 C131.76,537.59 136.24,537.76 145.20,537.80 C154.16,537.80 158.64,537.80 167.60,537.80 C176.56,537.80 181.04,537.80 190.00,537.80" fill="none" stroke="#2fc42a" stroke-width="0.3"/>
<line x1="55.60" y1="537.80" x2="190.00" y2="537.80" stroke="#9c9c9c" stroke-width="0.4" />
<circle cx="55.60" cy="537.80" r="0.9" fill="#12b812"/>
<circle cx="78.00" cy="537.80" r="0.9" fill="#12b812"/>
<circle cx="100.40" cy="537.80" r="0.9" fill="#12b812"/>
<circle cx="122.80" cy="537.59" r="0.9" fill="#12b812"/>
<circle cx="145.20" cy="537.80" r="0.9" fill="#12b812"/>
<circle cx="167.60" cy="537.80" r="0.9" fill="#12b812"/>
<circle cx="190.00" cy="537.80" r="0.9" fill="#12b812"/>
<rect x="81.80" y="476.80" width="12.70" height="3.60" fill="#2bc927" />
<text x="96.20" y="479.86" font-size="3.5" fill="#505050">Current Week</text>
<rect x="122.80" y="476.80" width="12.70" height="3.60" fill="#b3f6a9" />
<text x="137.30" y="479.86" font-size="3.5" fill="#505050">Last Week</text>
<line x1="46.30" y1="549.80" x2="195.00" y2="549.80" stroke="#eee" stroke-width="0.5" />
</g>
</svg></body></html>
